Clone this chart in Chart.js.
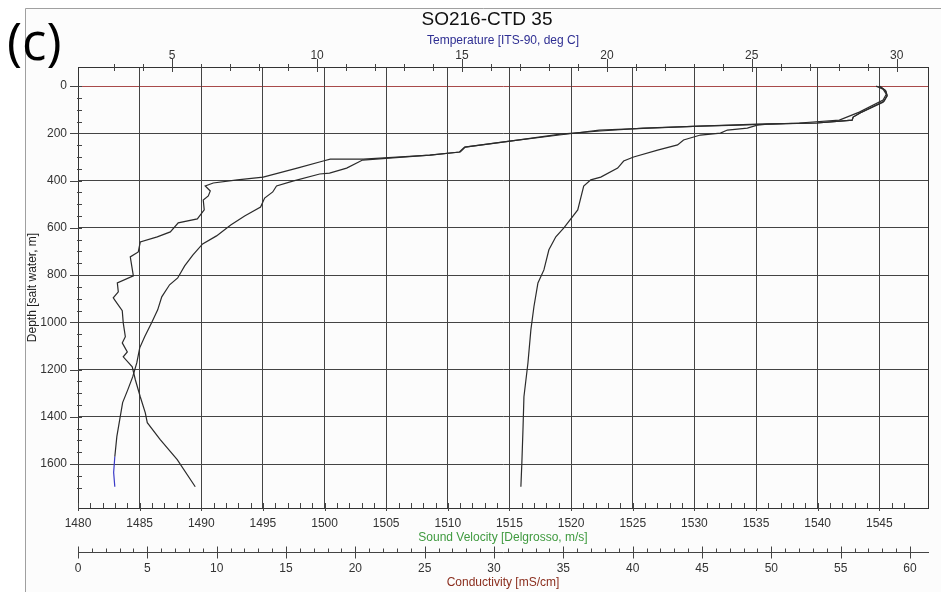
<!DOCTYPE html>
<html><head><meta charset="utf-8">
<script src="https://cdn.jsdelivr.net/npm/chart.js@4"></script>
<style>html,body{margin:0;padding:0;background:#fff;}#wrap{width:941px;height:592px;}</style>
</head><body><div id="wrap"><canvas id="c" width="941" height="592"></canvas></div>
<script>
const chartTitle = 'SO216-CTD 35';
const panelLabel = '(c)';

// Temperature [ITS-90, deg C] vs depth [m]
const tempDepth = [0,13,34,59,110,144,156,165,169,178,186,207,233,258,279,292,313,347,368,372,402,423,448,474,512,550,588,634,668,715,761,812,841,892,947,1002,1061,1108,1171,1230,1285,1340,1412,1484,1569,1636,1696];
const tempValues = [29.29,29.53,29.64,29.53,28.71,28.02,26.64,24.57,23.19,21.47,19.74,18.36,16.64,15.09,14.91,13.88,11.57,11.02,10.43,10.09,9.16,8.60,8.47,8.19,8.05,7.50,7.02,6.53,6.05,5.71,5.43,5.19,4.91,4.64,4.50,4.29,4.05,3.88,3.78,3.64,3.47,3.29,3.19,3.09,3.02,2.98,3.02];

// Sound velocity [Delgrosso, m/s] vs depth [m]
const svDepth = [0,17,38,63,114,131,144,148,156,161,169,178,190,203,233,258,279,292,309,309,317,347,385,397,410,423,444,465,482,524,562,579,617,638,660,702,723,803,833,871,896,909,951,1002,1061,1087,1125,1146,1188,1243,1315,1383,1425,1497,1581,1696];
const svValues = [1544.99,1545.47,1545.64,1545.40,1543.44,1542.88,1542.80,1541.82,1539.96,1535.09,1530.47,1525.85,1522.36,1519.12,1515.06,1511.41,1511.01,1508.57,1503.14,1500.46,1499.89,1497.78,1495.02,1492.92,1490.97,1490.32,1490.73,1490.57,1490.16,1490.24,1489.68,1488.13,1487.49,1486.43,1485.05,1484.89,1484.24,1484.49,1483.19,1483.27,1482.86,1483.03,1483.59,1483.67,1483.84,1483.59,1484.00,1483.67,1484.40,1484.65,1485.05,1485.46,1485.62,1486.67,1488.05,1489.51];

// Conductivity [mS/cm] vs depth [m]
const condDepth = [0,21,42,68,114,131,144,148,156,161,165,178,186,199,207,228,249,271,300,317,347,385,397,423,524,600,638,693,778,833,934,1032,1171,1315,1455,1594,1696];
const condValues = [57.84,58.27,58.35,58.06,56.40,55.90,55.83,54.96,53.31,49.71,48.99,48.27,46.83,46.33,44.89,43.67,43.24,41.80,40.07,39.35,38.92,37.70,36.98,36.47,36.04,35.04,34.46,33.96,33.60,33.17,32.88,32.66,32.45,32.16,32.09,32.01,31.94];

// Tick labels
const tempTickLabels = [5,10,15,20,25,30];
const svTickLabels = [1480,1485,1490,1495,1500,1505,1510,1515,1520,1525,1530,1535,1540,1545];
const condTickLabels = [0,5,10,15,20,25,30,35,40,45,50,55,60];
const depthTickLabels = [0,200,400,600,800,1000,1200,1400,1600];

const FONT = "'Liberation Sans', Arial, sans-serif";
function isInt(v){ return Math.abs(v - Math.round(v)) < 1e-6; }
function toPoints(xs, ys){ return xs.map((v, i) => ({x: v, y: ys[i]})); }
function labelCb(list){ return v => (isInt(v) && list.includes(Math.round(v))) ? String(Math.round(v)) : ''; }
const tickFont = {family: FONT, size: 12};
const TICK_COLOR = '#444';

const decorPlugin = {
  id: 'decor',
  beforeDraw(chart){
    const c = chart.ctx; c.save();
    c.fillStyle = '#ffffff'; c.fillRect(0, 0, chart.width, chart.height);
    c.fillStyle = '#fcfcfc'; c.fillRect(25, 8, chart.width - 25, chart.height - 8);
    c.strokeStyle = '#a0a0a0'; c.lineWidth = 1;
    c.beginPath(); c.moveTo(25.5, chart.height); c.lineTo(25.5, 8.5); c.lineTo(chart.width, 8.5); c.stroke();
    c.restore();
  },
  afterDraw(chart){
    const c = chart.ctx, a = chart.chartArea; c.save();
    c.strokeStyle = '#333'; c.lineWidth = 1;
    c.strokeRect(Math.round(a.left) + 0.5, Math.round(a.top) + 0.5, Math.round(a.right - a.left), Math.round(a.bottom - a.top));
    c.strokeStyle = TICK_COLOR;
    const seg = (x1, y1, x2, y2) => { c.beginPath(); c.moveTo(x1, y1); c.lineTo(x2, y2); c.stroke(); };
    const sT = chart.scales.xT, sV = chart.scales.x, sC = chart.scales.xC, sY = chart.scales.y;
    sT.ticks.forEach(t => { const v = t.value; if (!isInt(v)) return; const p = Math.round(sT.getPixelForValue(v)) + 0.5;
      if (Math.round(v) % 5 === 0) seg(p, a.top - 8, p, a.top + 5); else seg(p, a.top - 3, p, a.top + 4); });
    sV.ticks.forEach(t => { const v = t.value; if (!isInt(v)) return; const p = Math.round(sV.getPixelForValue(v)) + 0.5;
      if (Math.round(v) % 5 === 0) seg(p, a.bottom - 5, p, a.bottom + 3); else seg(p, a.bottom - 5, p, a.bottom); });
    const cy = Math.round(sC.top) + 0.5;
    sC.ticks.forEach(t => { const v = t.value; if (!isInt(v)) return; const p = Math.round(sC.getPixelForValue(v)) + 0.5;
      if (Math.round(v) % 5 === 0) seg(p, cy - 6, p, cy + 6); else seg(p, cy - 4, p, cy); });
    sY.ticks.forEach(t => { const v = t.value; if (!isInt(v) || Math.round(v) % 50 !== 0) return; const p = Math.round(sY.getPixelForValue(v)) + 0.5;
      if (Math.round(v) % 200 === 0) seg(a.left - 8, p, a.left + 4, p); else seg(a.left - 1, p, a.left + 4, p); });
    c.fillStyle = '#111'; c.font = "19px 'Liberation Sans', Arial, sans-serif"; c.textAlign = 'center'; c.textBaseline = 'middle';
    c.fillText(chartTitle, 487, 20);
    c.fillStyle = '#000'; c.font = "51px 'Open Sans', 'Noto Sans', sans-serif"; c.textAlign = 'left'; c.textBaseline = 'alphabetic';
    c.fillText(panelLabel, 7, 60);
    c.restore();
  }
};

const lineStyle = {showLine: true, borderColor: '#2b2b2b', borderWidth: 1.2, pointRadius: 0, pointHoverRadius: 0, fill: false, tension: 0};

new Chart(document.getElementById('c'), {
  type: 'scatter',
  data: {datasets: [
    Object.assign({label: 'Temperature', data: toPoints(tempValues, tempDepth), xAxisID: 'xT', yAxisID: 'y',
      segment: {borderColor: ctx => ctx.p1.parsed.y > 1630 ? '#3a3ac8' : undefined}}, lineStyle),
    Object.assign({label: 'Sound Velocity', data: toPoints(svValues, svDepth), xAxisID: 'x', yAxisID: 'y'}, lineStyle),
    Object.assign({label: 'Conductivity', data: toPoints(condValues, condDepth), xAxisID: 'xC', yAxisID: 'y'}, lineStyle)
  ]},
  options: {
    responsive: false, animation: false,
    layout: {padding: {left: 25, right: 13, top: 28, bottom: 0}},
    plugins: {legend: {display: false}, tooltip: {enabled: false}, title: {display: false}},
    scales: {
      y: {type: 'linear', position: 'left', reverse: true, min: -81, max: 1786,
        afterFit: s => { s.width = 53; },
        ticks: {stepSize: 50, autoSkip: false, padding: 11, color: '#333', font: tickFont, callback: labelCb(depthTickLabels)},
        grid: {drawTicks: false, lineWidth: 1, color: c => {
          if (!c.tick) return 'rgba(0,0,0,0)'; const v = c.tick.value;
          if (Math.abs(v) < 1e-6) return '#a84a4a';
          return (isInt(v) && Math.round(v) % 200 === 0) ? '#444' : 'rgba(0,0,0,0)'; }},
        border: {display: true, color: '#333'},
        title: {display: true, text: 'Depth [salt water, m]', color: '#222', font: {family: FONT, size: 12}, padding: {top: 0, bottom: 0}}
      },
      xT: {type: 'linear', axis: 'x', position: 'top', min: 1.75, max: 31.08,
        afterFit: s => { s.height = 39; },
        ticks: {stepSize: 1, autoSkip: false, maxRotation: 0, padding: 4, color: '#333', font: tickFont, callback: labelCb(tempTickLabels)},
        grid: {drawTicks: false, drawOnChartArea: false},
        border: {display: true, color: '#333'},
        title: {display: true, text: 'Temperature [ITS-90, deg C]', color: '#2e2e92', font: {family: FONT, size: 12}, padding: {top: 5, bottom: 0}}
      },
      x: {type: 'linear', position: 'bottom', min: 1480, max: 1548.95, weight: 0,
        afterFit: s => { s.height = 44; },
        ticks: {stepSize: 1, autoSkip: false, maxRotation: 0, padding: 8, color: '#333', font: tickFont, callback: labelCb(svTickLabels)},
        grid: {drawTicks: false, lineWidth: 1, color: c => (c.tick && isInt(c.tick.value) && Math.round(c.tick.value) % 5 === 0 && c.tick.value > 1480.5) ? '#444' : 'rgba(0,0,0,0)'},
        border: {display: true, color: '#333'},
        title: {display: true, text: 'Sound Velocity [Delgrosso, m/s]', color: '#3f9a3f', font: {family: FONT, size: 12}, padding: {top: 0, bottom: 7}}
      },
      xC: {type: 'linear', axis: 'x', position: 'bottom', min: 0, max: 61.3, weight: 1,
        afterFit: s => { s.height = 40; },
        ticks: {stepSize: 1, autoSkip: false, maxRotation: 0, padding: 9, color: '#333', font: tickFont, callback: labelCb(condTickLabels)},
        grid: {drawTicks: false, drawOnChartArea: false},
        border: {display: true, color: '#444'},
        title: {display: true, text: 'Conductivity [mS/cm]', color: '#8b2e1e', font: {family: FONT, size: 12}, padding: {top: 0, bottom: 2}}
      }
    }
  },
  plugins: [decorPlugin]
});
</script>
</body></html>
